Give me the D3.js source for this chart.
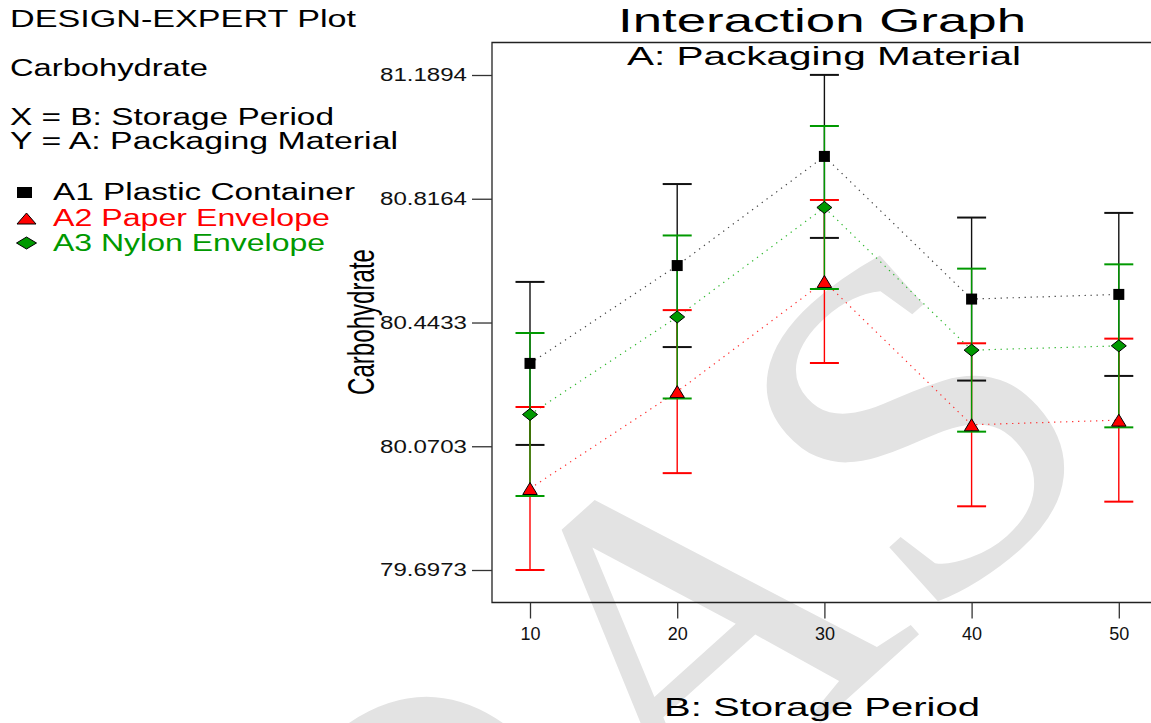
<!DOCTYPE html>
<html>
<head>
<meta charset="utf-8">
<script src="https://cdn.jsdelivr.net/npm/d3@7"></script>
<style>
  body { margin: 0; background: #fff; overflow: hidden; }
</style>
</head>
<body>
<div id="chart"></div>
<script>
// chart values
const periods = [10, 20, 30, 40, 50];
const plastic = [80.320, 80.615, 80.944, 80.514, 80.528];
const paper = [79.943, 80.235, 80.567, 80.135, 80.149];
const nylon = [80.166, 80.460, 80.790, 80.360, 80.373];
const lsdHalf = 0.2457; // half width of the LSD bars
const yTicks = [79.6973, 80.0703, 80.4433, 80.8164, 81.1894];
const seriesNames = ["A1 Plastic Container", "A2 Paper Envelope", "A3 Nylon Envelope"];

const W = 1151, H = 723;
const plotLeft = 492, plotTop = 42.5, plotBottom = 602.5;
const sans = "Liberation Sans, Arial, sans-serif";

const svg = d3.select("#chart").append("svg")
  .attr("width", W).attr("height", H)
  .attr("font-family", sans);

// faint watermark behind everything
const wmSize = 480;
svg.append("text")
  .attr("transform", "translate(664,864) rotate(-42)")
  .attr("x", -0.722 * wmSize)
  .style("font-family", "'Liberation Serif', 'Times New Roman', serif")
  .attr("font-size", wmSize)
  .attr("fill", "#e3e3e3")
  .text("OAS");

const x = d3.scaleLinear().domain([10, 50]).range([530, 1118.8]);
const y = d3.scaleLinear().domain([79.6973, 81.1894]).range([570, 75]);

// frame
svg.append("path")
  .attr("d", `M${W + 2},${plotTop}H${plotLeft}V${plotBottom}H${W + 2}`)
  .attr("fill", "none").attr("stroke", "#222").attr("stroke-width", 1.3);

// y axis
const yAxis = svg.append("g")
  .attr("transform", `translate(${plotLeft},0)`)
  .call(d3.axisLeft(y).tickValues(yTicks).tickSize(20).tickPadding(5)
    .tickFormat(d3.format(".4f")));
yAxis.select(".domain").remove();
yAxis.selectAll("line").attr("stroke", "#333").attr("stroke-width", 1.3);
yAxis.selectAll("text")
  .attr("font-size", 18).attr("fill", "#111")
  .attr("textLength", 87).attr("lengthAdjust", "spacingAndGlyphs")
  .attr("font-family", sans);

// x axis
const xAxis = svg.append("g")
  .attr("transform", `translate(0,${plotBottom})`)
  .call(d3.axisBottom(x).tickValues(periods).tickSize(16).tickPadding(9));
xAxis.select(".domain").remove();
xAxis.selectAll("line").attr("stroke", "#333").attr("stroke-width", 1.3);
xAxis.selectAll("text")
  .attr("font-size", 18).attr("fill", "#111")
  .attr("font-family", sans);

const series = [
  { name: seriesNames[0], values: plastic, color: "#111", line: "#444", shape: "square" },
  { name: seriesNames[1], values: paper, color: "#ff0000", line: "#ff3030", shape: "triangle" },
  { name: seriesNames[2], values: nylon, color: "#009900", line: "#2eb82e", shape: "diamond" }
];

// dotted connecting lines
const line = d3.line().x((d, i) => x(periods[i])).y(d => y(d));
series.forEach(s => {
  svg.append("path")
    .attr("d", line(s.values))
    .attr("fill", "none")
    .attr("stroke", s.line)
    .attr("stroke-width", 1.2)
    .attr("stroke-dasharray", "1.3,4.7");
});

// LSD error bars
series.forEach(s => {
  const g = svg.append("g").attr("stroke", s.color);
  s.values.forEach((v, i) => {
    const cx = x(periods[i]);
    const y0 = y(v - lsdHalf), y1 = y(v + lsdHalf);
    g.append("line").attr("x1", cx).attr("x2", cx).attr("y1", y0).attr("y2", y1)
      .attr("stroke-width", 1.4);
    [y0, y1].forEach(yy => {
      g.append("line").attr("x1", cx - 14.5).attr("x2", cx + 14.5)
        .attr("y1", yy).attr("y2", yy).attr("stroke-width", 2);
    });
  });
});

function marker(g, shape, cx, cy, w, h, fill) {
  if (shape === "square") {
    g.append("rect").attr("x", cx - w / 2).attr("y", cy - h / 2)
      .attr("width", w).attr("height", h).attr("fill", fill);
  } else if (shape === "triangle") {
    g.append("path")
      .attr("d", `M${cx},${cy - h / 2}L${cx + w / 2},${cy + h / 2}L${cx - w / 2},${cy + h / 2}Z`)
      .attr("fill", fill).attr("stroke", "#000").attr("stroke-width", 1);
  } else {
    g.append("path")
      .attr("d", `M${cx},${cy - h / 2}L${cx + w / 2},${cy}L${cx},${cy + h / 2}L${cx - w / 2},${cy}Z`)
      .attr("fill", fill).attr("stroke", "#000").attr("stroke-width", 1);
  }
}

const fills = { square: "#000", triangle: "#ff0000", diamond: "#009900" };
const sizes = { square: [11, 11], triangle: [14.5, 12], diamond: [15, 12] };

series.forEach(s => {
  const g = svg.append("g");
  s.values.forEach((v, i) => {
    const [w, h] = sizes[s.shape];
    marker(g, s.shape, x(periods[i]), y(v), w, h, fills[s.shape]);
  });
});

// titles
svg.append("text").attr("x", 822).attr("y", 32).attr("text-anchor", "middle")
  .attr("font-size", 34).attr("textLength", 408).attr("lengthAdjust", "spacingAndGlyphs")
  .text("Interaction Graph");
svg.append("text").attr("x", 824).attr("y", 65).attr("text-anchor", "middle")
  .attr("font-size", 25).attr("textLength", 394).attr("lengthAdjust", "spacingAndGlyphs")
  .text("A: Packaging Material");
svg.append("text").attr("x", 822).attr("y", 716).attr("text-anchor", "middle")
  .attr("font-size", 26).attr("textLength", 316).attr("lengthAdjust", "spacingAndGlyphs")
  .text("B: Storage Period");
svg.append("text")
  .attr("transform", "translate(374,322) rotate(-90)")
  .attr("text-anchor", "middle")
  .attr("font-family", "Liberation Sans Narrow, Arial Narrow, sans-serif")
  .attr("font-size", 37).attr("textLength", 146).attr("lengthAdjust", "spacingAndGlyphs")
  .text("Carbohydrate");

// info block on the left
const info = [
  { t: "DESIGN-EXPERT Plot", y: 27, len: 346 },
  { t: "Carbohydrate", y: 76, len: 198 },
  { t: "X = B: Storage Period", y: 125, len: 324 },
  { t: "Y = A: Packaging Material", y: 149, len: 388 }
];
info.forEach(d => {
  svg.append("text").attr("x", 10).attr("y", d.y)
    .attr("font-size", 23).attr("textLength", d.len).attr("lengthAdjust", "spacingAndGlyphs")
    .text(d.t);
});

// legend
const legendY = [192.5, 218.5, 243];
const legendLen = [302, 277, 272];
const legendSize = { square: [15, 11], triangle: [19, 11], diamond: [20, 12] };
series.forEach((s, i) => {
  const g = svg.append("g");
  const [w, h] = legendSize[s.shape];
  marker(g, s.shape, s.shape === "square" ? 24.5 : 26.5, legendY[i], w, h, fills[s.shape]);
  g.append("text").attr("x", 53).attr("y", legendY[i] + 7.5)
    .attr("font-size", 23).attr("fill", s.color === "#111" ? "#000" : s.color)
    .attr("textLength", legendLen[i]).attr("lengthAdjust", "spacingAndGlyphs")
    .text(s.name);
});
</script>
</body>
</html>
